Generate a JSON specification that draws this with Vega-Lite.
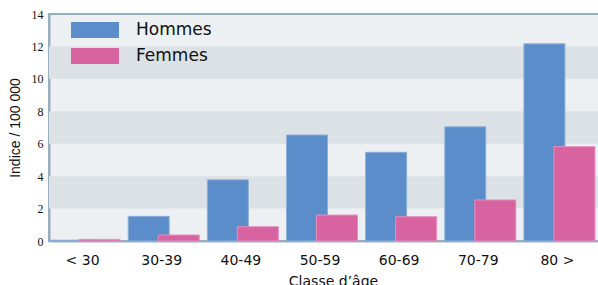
{
  "$schema": "https://vega.github.io/schema/vega-lite/v6.json",
  "width": 550,
  "height": 227,
  "autosize": {"type": "none"},
  "padding": {"left": 49, "top": 14, "right": 0, "bottom": 44},
  "background": "#ffffff",
  "view": {"fill": "#ecf0f3", "stroke": "#9aadbb", "strokeWidth": 2},
  "datasets": {
    "rates": [
      {"classe": "< 30", "sexe": "Hommes", "val": 0.05},
      {"classe": "< 30", "sexe": "Femmes", "val": 0.1},
      {"classe": "30-39", "sexe": "Hommes", "val": 1.52},
      {"classe": "30-39", "sexe": "Femmes", "val": 0.37},
      {"classe": "40-49", "sexe": "Hommes", "val": 3.77},
      {"classe": "40-49", "sexe": "Femmes", "val": 0.88},
      {"classe": "50-59", "sexe": "Hommes", "val": 6.54},
      {"classe": "50-59", "sexe": "Femmes", "val": 1.6},
      {"classe": "60-69", "sexe": "Hommes", "val": 5.47},
      {"classe": "60-69", "sexe": "Femmes", "val": 1.5},
      {"classe": "70-79", "sexe": "Hommes", "val": 7.04},
      {"classe": "70-79", "sexe": "Femmes", "val": 2.53},
      {"classe": "80 >", "sexe": "Hommes", "val": 12.16},
      {"classe": "80 >", "sexe": "Femmes", "val": 5.82}
    ],
    "bands": [
      {"lo": 2, "hi": 4},
      {"lo": 6, "hi": 8},
      {"lo": 10, "hi": 12}
    ]
  },
  "layer": [
    {
      "data": {"name": "bands"},
      "mark": {"type": "rect", "fill": "#dce1e5"},
      "encoding": {
        "y": {"field": "lo", "type": "quantitative"},
        "y2": {"field": "hi"}
      }
    },
    {
      "data": {"name": "rates"},
      "transform": [{"filter": "datum.sexe === 'Hommes'"}],
      "mark": {"type": "bar", "width": 41, "xOffset": -19, "stroke": "#8db0da", "strokeWidth": 1},
      "encoding": {
        "x": {
          "field": "classe",
          "type": "nominal",
          "sort": ["< 30", "30-39", "40-49", "50-59", "60-69", "70-79", "80 >"],
          "scale": {"range": [0, 554], "paddingInner": 0, "paddingOuter": 0},
          "axis": {
            "title": "Classe d’âge",
            "titleFont": "DejaVu Sans",
            "titleFontSize": 14,
            "titleFontWeight": "normal",
            "titleColor": "#111111",
            "titlePadding": 7,
            "titleX": 284,
            "labelFont": "DejaVu Sans",
            "labelFontSize": 14,
            "labelColor": "#111111",
            "labelAngle": 0,
            "labelPadding": 12,
            "labelOffset": -6,
            "ticks": false,
            "domainColor": "#9aadbb",
            "domainWidth": 2
          }
        },
        "y": {"field": "val", "type": "quantitative"},
        "color": {"field": "sexe", "type": "nominal"}
      }
    },
    {
      "data": {"name": "rates"},
      "transform": [{"filter": "datum.sexe === 'Femmes'"}],
      "mark": {"type": "bar", "width": 41, "xOffset": 11, "stroke": "#e48fbf", "strokeWidth": 1},
      "encoding": {
        "x": {
          "field": "classe",
          "type": "nominal",
          "sort": ["< 30", "30-39", "40-49", "50-59", "60-69", "70-79", "80 >"]
        },
        "y": {"field": "val", "type": "quantitative"},
        "color": {"field": "sexe", "type": "nominal"}
      }
    }
  ],
  "resolve": {"scale": {"x": "shared", "y": "shared", "color": "shared"}},
  "encoding": {
    "y": {
      "field": "val",
      "type": "quantitative",
      "scale": {"domain": [0, 14], "nice": false},
      "axis": {
        "title": "Indice / 100 000",
        "titleFont": "Liberation Sans",
        "titleFontSize": 14,
        "titleFontWeight": "normal",
        "titleColor": "#111111",
        "titlePadding": 9,
        "values": [0, 2, 4, 6, 8, 10, 12, 14],
        "labelFont": "Liberation Sans Narrow",
        "labelFontSize": 12,
        "labelColor": "#111111",
        "labelPadding": 6,
        "ticks": false,
        "grid": false,
        "domainColor": "#9aadbb",
        "domainWidth": 2
      }
    },
    "color": {
      "field": "sexe",
      "type": "nominal",
      "scale": {"domain": ["Hommes", "Femmes"], "range": ["#5b8dca", "#d764a0"]},
      "legend": {
        "orient": "none",
        "legendX": 22,
        "legendY": 8,
        "title": null,
        "padding": 0,
        "symbolType": "M-1,-0.3333H1V0.3333H-1Z",
        "symbolSize": 2304,
        "symbolStrokeWidth": 0,
        "symbolOpacity": 1,
        "clipHeight": 16,
        "rowPadding": 9,
        "labelOffset": 17,
        "labelFont": "DejaVu Sans",
        "labelFontSize": 17,
        "labelColor": "#111111"
      }
    }
  }
}
